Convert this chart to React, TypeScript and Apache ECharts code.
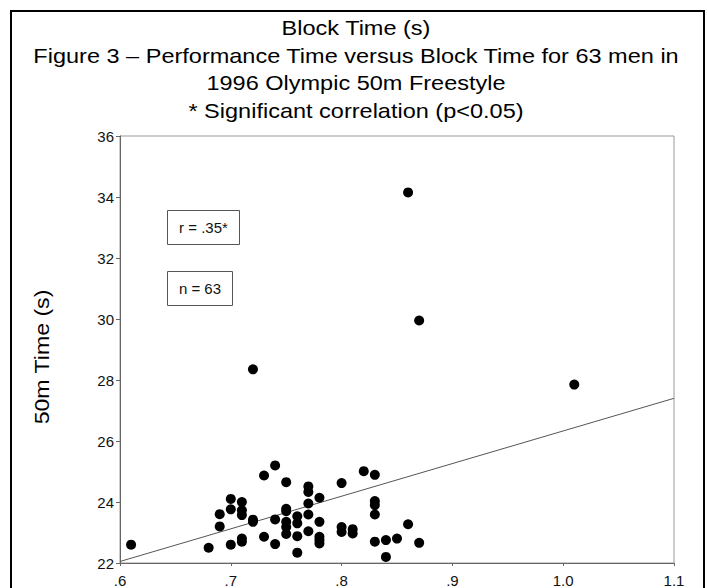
import React, { useEffect, useRef } from "react";
import * as echarts from "echarts";

const titleLines = [
  "Block Time (s)",
  "Figure 3 – Performance Time versus Block Time for 63 men in",
  "1996 Olympic 50m Freestyle",
  "* Significant correlation (p<0.05)",
];
const yAxisTitle = "50m Time (s)";
const xTicks = [0.6, 0.7, 0.8, 0.9, 1.0, 1.1];
const xTickLabels = [".6", ".7", ".8", ".9", "1.0", "1.1"];
const yTicks = [22, 24, 26, 28, 30, 32, 34, 36];

const blockTimes = [
  0.61, 0.68, 0.69, 0.69, 0.7, 0.7, 0.7, 0.71, 0.71, 0.71, 0.71, 0.71,
  0.72, 0.72, 0.73, 0.73, 0.74, 0.74, 0.74, 0.75, 0.75, 0.75, 0.75, 0.75,
  0.75, 0.76, 0.76, 0.76, 0.76, 0.77, 0.77, 0.77, 0.77, 0.77, 0.78, 0.78,
  0.78, 0.78, 0.78, 0.8, 0.8, 0.8, 0.81, 0.81, 0.82, 0.83, 0.83, 0.83,
  0.83, 0.83, 0.84, 0.84, 0.85, 0.86, 0.87, 1.01, 0.86, 0.87, 0.72,
];
const raceTimes = [
  22.6, 22.5, 23.6, 23.2, 24.1, 23.76, 22.6, 24.0, 23.73, 23.57, 22.8, 22.7,
  23.42, 23.35, 24.87, 22.86, 25.2, 23.43, 22.62, 24.65, 23.78, 23.7, 23.35, 23.18,
  22.95, 23.53, 23.3, 22.88, 22.34, 24.51, 24.33, 23.95, 23.59, 23.04, 24.14, 23.35,
  22.86, 22.75, 22.64, 24.62, 23.18, 23.02, 23.11, 22.97, 25.01, 24.89, 24.03, 23.9,
  23.59, 22.7, 22.75, 22.2, 22.8, 23.27, 22.66, 27.85, 34.15, 29.95, 28.35,
];
const fitX = [0.6, 1.1];
const fitY = [22.05, 27.4];
const annotations = ["r = .35*", "n = 63"];

const FONT = '"Liberation Sans", Arial, Helvetica, sans-serif';

export default function App() {
  const ref = useRef<HTMLDivElement>(null);
  useEffect(() => {
    if (!ref.current) return;
    const chart = echarts.init(ref.current, undefined, { renderer: "svg" });
    const points = blockTimes.map((x, i) => [x, raceTimes[i]]);
    const fit = fitX.map((x, i) => [x, fitY[i]]);
    const titleY = [28, 55.5, 83, 110.5];
    const titleTexts = titleLines.map((t, i) => ({
      type: "text",
      x: 356,
      y: titleY[i],
      scaleX: 1.12,
      style: {
        text: t,
        fontFamily: FONT,
        fontSize: 21,
        fill: "#000",
        align: "center",
        verticalAlign: "middle",
      },
      silent: true,
    }));
    chart.setOption({
      animation: false,
      backgroundColor: "#ffffff",
      grid: { left: 120, top: 136, right: 34, bottom: 25, containLabel: false },
      xAxis: {
        type: "value",
        min: xTicks[0],
        max: xTicks[xTicks.length - 1],
        interval: 0.1,
        axisLine: { show: true, lineStyle: { color: "#666", width: 1 } },
        axisTick: { show: true, length: 3, lineStyle: { color: "#666" } },
        splitLine: { show: false },
        axisLabel: {
          fontFamily: FONT,
          fontSize: 15,
          color: "#111",
          margin: 10,
          formatter: (v: number) => {
            const idx = xTicks.findIndex((t) => Math.abs(t - v) < 1e-6);
            return idx >= 0 ? xTickLabels[idx] : "";
          },
        },
      },
      yAxis: {
        type: "value",
        min: yTicks[0],
        max: yTicks[yTicks.length - 1],
        interval: 2,
        axisLine: { show: true, lineStyle: { color: "#666", width: 1 } },
        axisTick: { show: true, length: 4, lineStyle: { color: "#666" } },
        splitLine: { show: false },
        axisLabel: { fontFamily: FONT, fontSize: 15, color: "#111", margin: 6 },
      },
      graphic: [
        {
          type: "rect",
          shape: { x: 11, y: 11, width: 693, height: 600 },
          style: { fill: "none", stroke: "#000", lineWidth: 2 },
          silent: true,
        },
        ...titleTexts,
        {
          type: "rect",
          shape: { x: 120, y: 136, width: 554, height: 427 },
          style: { fill: "none", stroke: "#999", lineWidth: 1 },
          silent: true,
        },
        {
          type: "text",
          x: 42,
          y: 357,
          rotation: Math.PI / 2,
          scaleX: 1.1,
          style: {
            text: yAxisTitle,
            fontFamily: FONT,
            fontSize: 21,
            fill: "#000",
            align: "center",
            verticalAlign: "middle",
          },
        },
        {
          type: "rect",
          shape: { x: 167.5, y: 210.5, width: 72, height: 34 },
          style: { fill: "#fff", stroke: "#555", lineWidth: 1 },
        },
        {
          type: "text",
          x: 203.5,
          y: 227.5,
          style: {
            text: annotations[0],
            fontFamily: FONT,
            fontSize: 15,
            fill: "#111",
            align: "center",
            verticalAlign: "middle",
          },
        },
        {
          type: "rect",
          shape: { x: 167.5, y: 271.5, width: 65, height: 34 },
          style: { fill: "#fff", stroke: "#555", lineWidth: 1 },
        },
        {
          type: "text",
          x: 200,
          y: 288.5,
          style: {
            text: annotations[1],
            fontFamily: FONT,
            fontSize: 15,
            fill: "#111",
            align: "center",
            verticalAlign: "middle",
          },
        },
      ],
      series: [
        {
          type: "line",
          data: fit,
          symbol: "none",
          lineStyle: { color: "#555", width: 1 },
          silent: true,
          z: 2,
        },
        {
          type: "scatter",
          data: points,
          symbol: "circle",
          symbolSize: 10,
          itemStyle: { color: "#000", opacity: 1 },
          z: 3,
        },
      ],
    });
    return () => chart.dispose();
  }, []);
  return (
    <div
      ref={ref}
      style={{ position: "fixed", left: 0, top: 0, width: 708, height: 588 }}
    />
  );
}
